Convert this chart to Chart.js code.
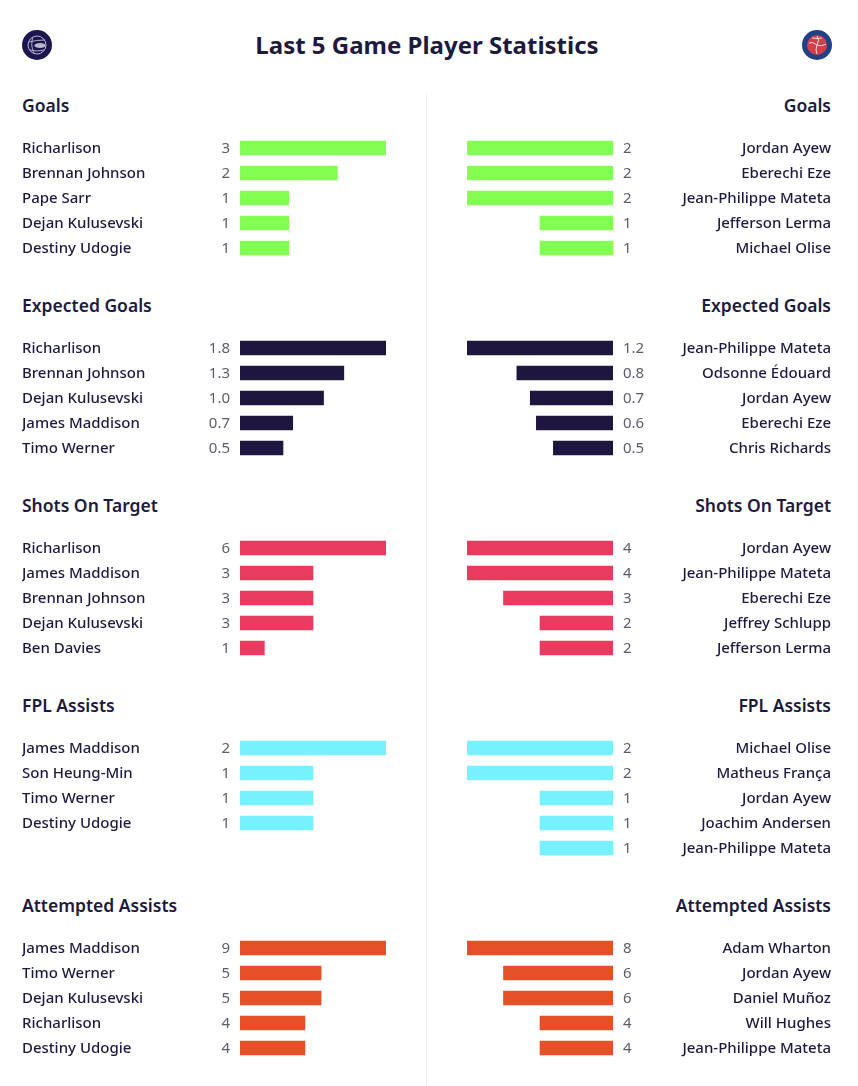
<!DOCTYPE html>
<html>
<head>
<meta charset="utf-8">
<title>Last 5 Game Player Statistics</title>
<script src="https://cdn.jsdelivr.net/npm/chart.js@4"></script>
<style>
  html, body { margin: 0; padding: 0; background: #fff; }
  body { position: relative; width: 858px; height: 1086px; overflow: hidden; font-family: "Noto Sans", sans-serif; color: #1c1a40; }
  h1 { position: absolute; left: 0; width: 854px; top: 27px; margin: 0; text-align: center; font-size: 24px; line-height: 36px; font-weight: 700; }
  h2 { position: absolute; margin: 0; font-size: 17.5px; line-height: 24px; font-weight: 600; }
  h2.home { left: 22px; }
  h2.away { right: 27px; }
  canvas { position: absolute; }
  .divider { position: absolute; left: 426px; top: 94px; width: 1px; height: 992px; background: #efeff1; }
  .crest { position: absolute; top: 30px; width: 30px; height: 30px; }
</style>
</head>
<body>
<h1>Last 5 Game Player Statistics</h1>
<svg class="crest" style="left:22px" viewBox="0 0 30 30">
  <circle cx="15" cy="15" r="15" fill="#1c1650"/>
  <circle cx="15" cy="15" r="9" fill="none" stroke="#b9b8cc" stroke-width="1"/>
  <path d="M7 12 Q14 10 23 10 M8 20 Q15 22 22 20 M11 7 Q8 15 12 23" fill="none" stroke="#b9b8cc" stroke-width="0.9"/>
  <ellipse cx="18" cy="15.5" rx="5.5" ry="2.4" fill="#b9b8cc"/>
</svg>
<svg class="crest" style="left:802px" viewBox="0 0 30 30">
  <circle cx="15" cy="15" r="15" fill="#1f4187"/>
  <circle cx="15" cy="15" r="10" fill="#d0404a"/>
  <path d="M15 15 Q10 11 7 13 M15 15 Q18 10 15 6 M15 15 Q20 17 24 14 M15 15 Q13 20 15 24 M10 8 Q15 9 20 8" fill="none" stroke="#f6dcd8" stroke-width="1"/>
</svg>
<div class="divider"></div>
<script>
// Spurs
const goalsHomeNames = ["Richarlison", "Brennan Johnson", "Pape Sarr", "Dejan Kulusevski", "Destiny Udogie"];
const goalsHomeValues = [3, 2, 1, 1, 1];
const xgHomeNames = ["Richarlison", "Brennan Johnson", "Dejan Kulusevski", "James Maddison", "Timo Werner"];
const xgHomeValues = [1.8, 1.28, 1.03, 0.65, 0.53];
const shotsHomeNames = ["Richarlison", "James Maddison", "Brennan Johnson", "Dejan Kulusevski", "Ben Davies"];
const shotsHomeValues = [6, 3, 3, 3, 1];
const fplHomeNames = ["James Maddison", "Son Heung-Min", "Timo Werner", "Destiny Udogie"];
const fplHomeValues = [2, 1, 1, 1];
const attemptedHomeNames = ["James Maddison", "Timo Werner", "Dejan Kulusevski", "Richarlison", "Destiny Udogie"];
const attemptedHomeValues = [9, 5, 5, 4, 4];

// Palace
const goalsAwayNames = ["Jordan Ayew", "Eberechi Eze", "Jean-Philippe Mateta", "Jefferson Lerma", "Michael Olise"];
const goalsAwayValues = [2, 2, 2, 1, 1];
const xgAwayNames = ["Jean-Philippe Mateta", "Odsonne Édouard", "Jordan Ayew", "Eberechi Eze", "Chris Richards"];
const xgAwayValues = [1.2, 0.79, 0.68, 0.63, 0.49];
const shotsAwayNames = ["Jordan Ayew", "Jean-Philippe Mateta", "Eberechi Eze", "Jeffrey Schlupp", "Jefferson Lerma"];
const shotsAwayValues = [4, 4, 3, 2, 2];
const fplAwayNames = ["Michael Olise", "Matheus França", "Jordan Ayew", "Joachim Andersen", "Jean-Philippe Mateta"];
const fplAwayValues = [2, 2, 1, 1, 1];
const attemptedAwayNames = ["Adam Wharton", "Jordan Ayew", "Daniel Muñoz", "Will Hughes", "Jean-Philippe Mateta"];
const attemptedAwayValues = [8, 6, 6, 4, 4];

const fontFamily = "'Noto Sans', sans-serif";
const nameColor = "#1c1a40";
const valueColor = "#5c5c6e";

// draws the number next to each bar
const valueLabels = {
    id: "valueLabels",
    afterDatasetsDraw(chart, args, opts) {
        const ctx = chart.ctx;
        ctx.save();
        ctx.font = "400 15px " + fontFamily;
        ctx.fillStyle = valueColor;
        ctx.textBaseline = "middle";
        ctx.textAlign = opts.away ? "left" : "right";
        const x = opts.away ? chart.chartArea.right + 10 : chart.chartArea.left - 10;
        chart.getDatasetMeta(0).data.forEach((bar, i) => {
            ctx.fillText(chart.data.datasets[0].data[i].toFixed(opts.decimals), x, bar.y + 1);
        });
        ctx.restore();
    }
};

function addSide(section, side, title, names, values, color, decimals) {
    const away = side === "away";

    const heading = document.createElement("h2");
    heading.className = side;
    heading.textContent = title;
    heading.style.top = (93 + section * 200) + "px";
    document.body.appendChild(heading);

    // canvas is taller than the rows so the padding wins over the tick label inset
    const canvas = document.createElement("canvas");
    canvas.style.left = (away ? 429 : 0) + "px";
    canvas.style.top = (115 + section * 200) + "px";
    canvas.style.width = "429px";
    canvas.style.height = "166px";
    canvas.width = 429;
    canvas.height = 166;
    document.body.appendChild(canvas);

    new Chart(canvas.getContext("2d"), {
        type: "bar",
        data: {
            labels: names,
            datasets: [{
                data: values,
                backgroundColor: color,
                barThickness: 14
            }]
        },
        plugins: [valueLabels],
        options: {
            indexAxis: "y",
            responsive: false,
            animation: false,
            layout: {
                padding: {
                    top: 20.5,
                    bottom: 20.5 + (5 - names.length) * 25,
                    left: away ? 38 : 22,
                    right: away ? 27 : 43
                }
            },
            plugins: {
                legend: { display: false },
                title: { display: false },
                tooltip: { enabled: false },
                valueLabels: { away: away, decimals: decimals }
            },
            scales: {
                x: {
                    display: false,
                    min: 0,
                    max: Math.max(...values),
                    reverse: away
                },
                y: {
                    position: away ? "right" : "left",
                    afterFit(scale) { scale.width = 218; },
                    grid: { display: false },
                    border: { display: false },
                    ticks: {
                        autoSkip: false,
                        crossAlign: "far",
                        labelOffset: 1,
                        color: nameColor,
                        font: { family: fontFamily, size: 15, weight: "500" }
                    }
                }
            }
        }
    });
}

addSide(0, "home", "Goals", goalsHomeNames, goalsHomeValues, "#82ff52", 0);
addSide(0, "away", "Goals", goalsAwayNames, goalsAwayValues, "#82ff52", 0);
addSide(1, "home", "Expected Goals", xgHomeNames, xgHomeValues, "#1f1640", 1);
addSide(1, "away", "Expected Goals", xgAwayNames, xgAwayValues, "#1f1640", 1);
addSide(2, "home", "Shots On Target", shotsHomeNames, shotsHomeValues, "#e93a60", 0);
addSide(2, "away", "Shots On Target", shotsAwayNames, shotsAwayValues, "#e93a60", 0);
addSide(3, "home", "FPL Assists", fplHomeNames, fplHomeValues, "#78f1ff", 0);
addSide(3, "away", "FPL Assists", fplAwayNames, fplAwayValues, "#78f1ff", 0);
addSide(4, "home", "Attempted Assists", attemptedHomeNames, attemptedHomeValues, "#e65028", 0);
addSide(4, "away", "Attempted Assists", attemptedAwayNames, attemptedAwayValues, "#e65028", 0);
</script>
</body>
</html>
